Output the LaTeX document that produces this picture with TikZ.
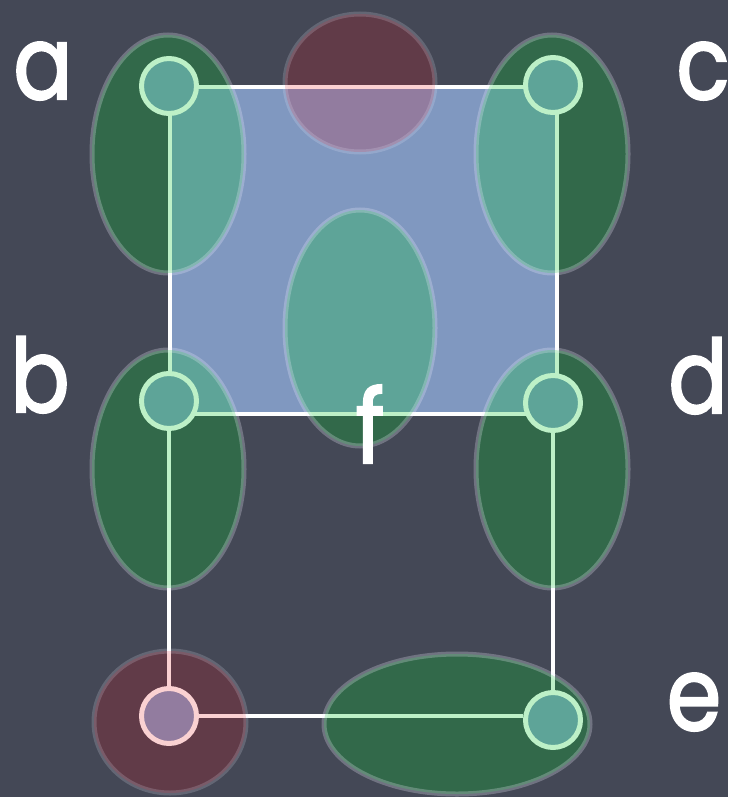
\documentclass[tikz,border=0pt]{standalone}
\usepackage{fontspec}
\setmainfont{Poppins}
\newfontfamily\chalkfont{Poppins}[FakeBold=2.2]
\definecolor{board}{RGB}{68,72,86}
\definecolor{blueface}{RGB}{128,152,192}
\definecolor{blobgreen}{RGB}{0,200,40}
\definecolor{blobred}{RGB}{230,0,10}
\definecolor{blobrim}{RGB}{240,240,255}
\newcommand{\chalk}[1]{\scalebox{0.86}[1]{#1}}
\begin{document}
\begin{tikzpicture}[x=1pt,y=-1pt,
  vtx/.style={circle, draw=white, line width=5pt, fill=blueface, minimum size=55pt, inner sep=0pt},
  edge/.style={draw=white, line width=4.5pt},
  greenblob/.style={fill=blobgreen, draw=blobrim, line width=5pt, opacity=0.26},
  redblob/.style={fill=blobred, draw=blobrim, line width=5pt, opacity=0.18},
  lbl/.style={text=white, font=\fontsize{102}{102}\selectfont\chalkfont, inner sep=0pt, anchor=base}]
\useasboundingbox (0,0) rectangle (728,797);
\fill[board] (0,0) rectangle (728,797);
% blue face
\draw[edge, fill=blueface] (170,87) rectangle (557,414);
% vertices
\node[vtx] (a) at (169,86) {};
\node[vtx] (c) at (553,85) {};
\node[vtx] (b) at (169,401) {};
\node[vtx] (d) at (553,403) {};
\node[vtx] (g) at (169,716) {};
\node[vtx] (e) at (553,720) {};
% connectors outside the face
\draw[edge] (b) -- (g);
\draw[edge] (d) -- (e);
\draw[edge] (g) -- (g -| e.west);
% blobs
\draw[redblob] (360,83) ellipse [x radius=75, y radius=69];
\draw[greenblob] (360,328) ellipse [x radius=75, y radius=118];
\draw[greenblob] (168,154) ellipse [x radius=76, y radius=119];
\draw[greenblob] (552,154) ellipse [x radius=76, y radius=119];
\draw[greenblob] (168,469) ellipse [x radius=76, y radius=119];
\draw[greenblob] (552,469) ellipse [x radius=76, y radius=119];
\draw[redblob] (170,722) ellipse [x radius=76, y radius=71];
\draw[greenblob] (457,724) ellipse [x radius=133, y radius=70];
% labels
\node[lbl] (la) at (43,99) {\chalk{a}};
\node[lbl] (lc) at (703,99) {\chalk{c}};
\node[lbl] (lb) at (40,412) {\chalk{b}};
\node[lbl] (ld) at (698,413) {\chalk{d}};
\node[lbl] (le) at (694,730) {\chalk{e}};
\node[lbl] (lf) at (370,463) {\chalk{f}};
\end{tikzpicture}
\end{document}
